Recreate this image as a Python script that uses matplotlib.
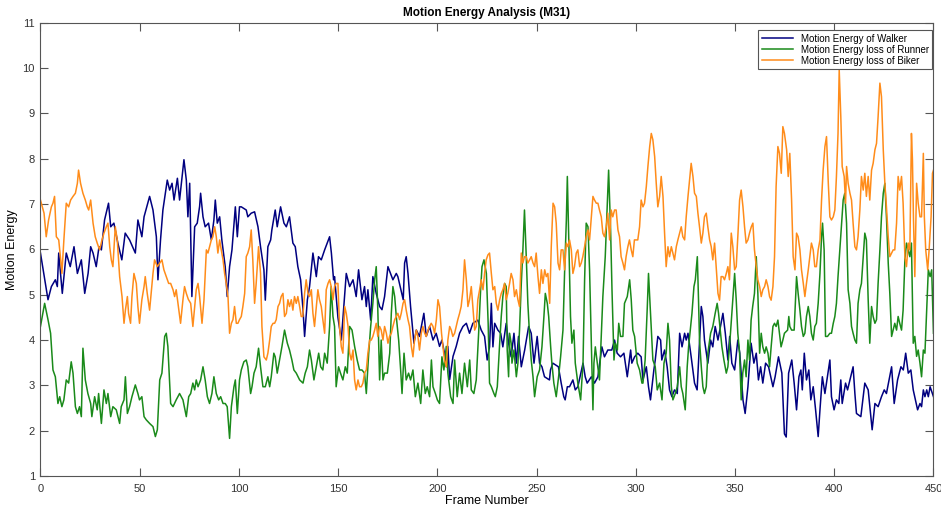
import matplotlib.pyplot as plt

plt.rcParams['font.family'] = ['Liberation Sans', 'DejaVu Sans']

# Walker (frame, value)
walker_f = [0, 3.8, 5.5, 7.5, 8.5, 9.2, 11, 13, 15, 16.9, 18.6, 20.6, 22.3, 24, 25.3, 26.5, 28.1, 29.5, 30.7,
            32.3, 34.3, 35.4, 37, 39, 41, 42.7, 44.9, 47.8, 49.1, 51.1, 52.2, 55, 56.7, 58.4, 59.2, 60.5, 61.7,
            63.9, 65.1, 66.3, 67.3, 69, 70.1, 72.3, 73.5, 74.3, 75.2, 76.3, 77.7, 79, 80.2, 80.7, 81.9, 83,
            84.7, 86.1, 87.4, 88.1, 89.1, 90.3, 91.4, 93.1, 94.1, 95.3, 96.5, 98.2, 99.2, 100.3, 101.2, 103.7,
            104.5, 106.2, 107.9, 109.6, 110.9, 112.6, 113.3, 114.6, 116, 116.6, 118.3, 119.3, 121, 122.7,
            123.9, 125.5, 127.2, 128.4, 129.7, 131.1, 132.3, 133.1, 134.5, 135.6, 137.3, 139, 140.1, 141.5,
            143.2, 145.7, 146.6, 147.7, 148.2, 149.9, 151.6, 154.1, 155.8, 157.5, 159.1, 160.3, 162, 163.3,
            164.2, 165, 166.4, 167.5, 169.2, 170.9, 172.1, 173.4, 175.1, 176.4, 177.6, 179.3, 180.1, 182.8,
            183.5, 184.3, 185.2, 186.5, 188.2, 189.4, 191, 193.2, 194.4, 196.1, 197.8, 199.4, 201.1, 202.3,
            203.6, 204.5, 205.3, 206.2, 207.9, 209.5, 211.2, 212.9, 214.6, 216.2, 217.9, 220.4, 222.1, 223.8,
            225.1, 226.3, 227.2, 228, 228.9, 230.5, 231.9, 233, 234.7, 235.9, 237.2, 238.6, 239.8, 240.9,
            242.3, 244, 246, 247.3, 248.7, 250.3, 251.5, 252.7, 254, 256.5, 257, 258.2, 261, 262.4, 263.7,
            264.4, 265.5, 266.6, 268.3, 269.5, 270.8, 273.4, 274.5, 275.5, 277.6, 279.2, 280.9, 282.9, 284.2,
            285.9, 287.9, 289.3, 290.6, 292.3, 294, 295.7, 297.4, 298, 299.4, 301, 302.7, 303.6, 305.3, 306.4,
            307.4, 309.1, 309.8, 311.1, 312.5, 313.1, 314.5, 315.8, 317, 318.2, 319.5, 320.9, 322.1, 323.3,
            324.6, 325.4, 326.3, 327.9, 329.6, 330.9, 333, 333.8, 334.6, 336.3, 337.7, 338.8, 340, 341.4,
            343.9, 345.1, 346.4, 347.3, 348.4, 349.8, 351.4, 352.4, 354, 355.1, 356.5, 358.1, 359.5, 360.7,
            361.8, 362.9, 364, 365.4, 366.9, 369.1, 370.2, 371.9, 373.6, 374.9, 375.8, 377, 378.6, 379.8,
            381, 382.2, 383.2, 383.9, 384.9, 386, 387.2, 388.2, 389.4, 390.6, 391.9, 392.8, 394, 395.3,
            397.8, 398.6, 399.9, 401.1, 402.3, 403.3, 404, 405.7, 406.7, 409.5, 410.4, 411.2, 413.4, 415.4,
            417.1, 419.1, 420.5, 422.1, 423.8, 425.2, 426.3, 428.9, 430.2, 431.9, 433.6, 434.8, 436, 437.3,
            438.6, 439.8, 442, 443.2, 444, 444.9, 445.7, 446.6, 447.4, 448.3, 450]
walker_v = [5.92, 4.89, 5.18, 5.33, 5.18, 5.92, 5.03, 5.92, 5.62, 6.06, 5.47, 5.77, 5.03, 5.47, 6.06, 5.92, 5.62,
            6.06, 5.99, 6.65, 7.02, 6.5, 6.58, 6.14, 5.77, 6.36, 6.21, 5.92, 6.65, 6.28, 6.72, 7.17, 6.87,
            6.28, 5.33, 6.21, 6.87, 7.53, 7.31, 7.46, 7.09, 7.57, 7.09, 7.98, 7.53, 6.72, 7.46, 4.96, 6.5,
            6.58, 6.95, 7.24, 6.72, 6.5, 6.58, 6.21, 6.65, 7.09, 6.58, 6.72, 6.21, 5.62, 4.96, 5.62, 5.99,
            6.94, 6.28, 6.94, 6.94, 6.87, 6.72, 6.8, 6.83, 6.5, 6.06, 5.55, 4.88, 6.06, 6.21, 6.43, 6.87,
            6.5, 6.94, 6.58, 6.5, 6.72, 6.14, 6.06, 5.62, 5.33, 4.67, 4.08, 4.89, 5.18, 5.92, 5.4, 5.84,
            5.77, 5.99, 6.28, 5.92, 5.33, 5.4, 4.5, 4.0, 5.47, 5.18, 5.33, 4.96, 5.55, 4.89, 5.18, 4.74,
            5.11, 4.44, 5.4, 5.03, 4.74, 4.67, 4.96, 5.62, 5.47, 5.33, 5.47, 5.4, 4.89, 5.7, 5.84, 5.47,
            4.74, 3.93, 4.22, 4.08, 4.59, 4.08, 4.3, 4.0, 4.15, 3.86, 4.0, 3.71, 3.41, 3.86, 3.13, 3.64,
            3.86, 4.15, 4.3, 4.37, 4.15, 4.37, 4.44, 4.22, 4.08, 3.56, 3.85, 4.81, 3.85, 4.37, 4.22, 4.15,
            3.85, 4.37, 3.93, 3.63, 4.15, 3.49, 4.08, 3.41, 3.78, 4.3, 4.15, 3.49, 4.08, 3.49, 3.41, 3.19,
            3.12, 3.34, 3.49, 3.41, 3.05, 2.75, 2.68, 2.97, 2.97, 3.12, 2.9, 2.97, 3.49, 3.19, 3.05, 3.19,
            3.05, 3.19, 3.85, 3.63, 3.78, 3.78, 4.0, 3.71, 3.63, 3.71, 3.19, 3.78, 3.49, 3.63, 3.71, 3.63,
            3.12, 3.41, 2.97, 2.68, 3.34, 3.56, 4.08, 4.0, 3.56, 3.78, 3.41, 2.9, 2.75, 2.9, 2.82, 4.15,
            3.85, 4.15, 4.0, 4.15, 3.63, 3.05, 2.9, 4.74, 4.52, 4.0, 3.49, 4.0, 3.85, 4.3, 4.0, 4.59, 4.15,
            3.56, 4.08, 3.49, 3.34, 4.0, 3.71, 2.68, 2.38, 2.97, 3.93, 3.49, 3.71, 3.12, 3.41, 3.05, 3.49,
            3.41, 2.97, 3.19, 3.63, 3.27, 1.93, 1.86, 3.27, 3.56, 3.05, 2.46, 3.19, 3.34, 2.9, 3.71, 3.12,
            3.34, 2.68, 2.97, 2.46, 1.87, 2.46, 3.19, 2.82, 3.56, 2.75, 2.46, 2.68, 2.6, 3.12, 2.6, 3.05,
            2.9, 3.41, 2.82, 2.38, 2.31, 3.05, 2.9, 2.02, 2.6, 2.53, 2.75, 2.9, 2.82, 3.41, 2.6, 3.12, 3.41,
            3.34, 3.71, 3.27, 3.34, 2.9, 2.46, 2.6, 2.53, 2.9, 2.75, 2.9, 2.75, 2.97, 2.75]

# Runner
runner_f = [0, 2.1, 3.8, 5.1, 6.3, 7.5, 8.8, 9.7, 10.8, 11.8, 13, 14.2, 15.5, 16.4, 17.6, 18.6, 19.7, 20.6,
            21.4, 22.6, 23.9, 25.3, 25.9, 27.3, 28.6, 29.3, 30.7, 32, 33.2, 34, 35.4, 36.5, 38.2, 39.9, 40.7,
            42.1, 42.8, 43.8, 44.9, 46.1, 47.8, 49.1, 49.9, 51.1, 52.2, 53.3, 55, 56.7, 57.9, 58.9, 60.1,
            61.2, 62.6, 63.4, 64.2, 65.6, 66.8, 68.4, 70.1, 71.8, 73.5, 74.7, 75.7, 76.8, 77.7, 78.5, 79.4,
            80.7, 81.9, 83, 84.1, 85.2, 86.4, 87.4, 88.6, 89.8, 90.8, 92, 93.1, 94.1, 95.3, 96.2, 97.5, 98.2,
            99.2, 100.3, 101.2, 102.5, 103.7, 104.5, 105.9, 106.6, 107.6, 108.7, 109.9, 110.9, 112.1, 113.3,
            114.6, 115.5, 116.3, 117.6, 118.3, 119.3, 120.5, 121.7, 123, 124.4, 125.5, 126.7, 127.7, 128.9,
            130.6, 132.3, 133.4, 134.5, 135.6, 136.5, 137.8, 139, 140.2, 141.2, 142.3, 143.2, 144.5, 145.7,
            146.5, 147.4, 148.2, 149, 150.2, 151.2, 152.4, 153.6, 154.6, 155.8, 157, 158.3, 159.6, 160.8,
            162, 163.3, 164.2, 165.4, 166.4, 167.5, 168.4, 169.2, 170, 170.9, 171.7, 172.6, 173.4, 174.8,
            176, 176.8, 177.6, 178.5, 179.3, 180.5, 181.5, 182.2, 183.2, 184.3, 185.5, 186.5, 187.7, 188.9,
            190.2, 191.6, 192.7, 193.9, 194.9, 196.1, 197, 197.8, 199, 200, 201.1, 202.3, 203.3, 204.5,
            205.3, 206.7, 207.9, 208.7, 210, 211.2, 212.4, 213.7, 215.1, 216.3, 217.1, 218.4, 219.6, 220.8,
            221.8, 222.5, 223.5, 224.7, 225.6, 226.3, 227.2, 228.5, 229.2, 230.2, 231.4, 232.2, 233, 233.9,
            234.7, 235.2, 235.9, 236.4, 237.2, 237.6, 238.6, 239.8, 240.6, 241.4, 242.3, 243.1, 243.9,
            244.8, 245.6, 246.5, 247.3, 248.2, 249, 250.3, 251.5, 252.7, 253.7, 254.4, 255.4, 256.1, 257.1,
            257.7, 258.7, 259.9, 261.1, 262.1, 263.3, 264.1, 265, 265.5, 266.1, 267.1, 267.8, 268.8, 269.5,
            270.8, 272.2, 273.4, 274.2, 275, 275.9, 276.7, 277.6, 278.4, 278.9, 279.6, 280.6, 281.7, 282.6,
            283.4, 284.6, 285.6, 286.3, 287.3, 288, 289, 289.7, 290.7, 291.4, 292.3, 293.5, 294.3, 295.7,
            296.9, 297.7, 298.5, 299.4, 300.7, 301.9, 303.1, 303.6, 304.7, 305.8, 306.4, 307.4, 308.6,
            309.8, 310.8, 312, 313.2, 314.2, 315.3, 316.2, 317, 317.9, 318.7, 319.9, 320.9, 322.1, 322.9,
            323.7, 324.9, 325.9, 326.6, 327.6, 328.3, 329.3, 330, 331, 331.6, 332.1, 333, 333.8, 334.6,
            335.5, 336.3, 337.7, 338.8, 340, 341, 341.7, 342.7, 343.4, 344.4, 345.6, 346.4, 347.7, 348.9,
            349.8, 350.6, 351.4, 352.3, 353.1, 353.9, 354.8, 355.6, 356.5, 357.3, 358.1, 358.9, 359.8,
            360.7, 361.5, 362.4, 363.2, 364, 364.9, 365.7, 366.6, 367.4, 368.2, 369.1, 369.9, 370.7, 371.6,
            372.4, 373.2, 374.1, 374.9, 376.5, 377.1, 377.6, 378.5, 379.8, 381, 381.8, 382.7, 383.5, 384.4,
            385.2, 386, 386.9, 387.7, 388.5, 389.4, 390.2, 391, 391.9, 392.8, 393.6, 394.1, 394.9, 395.6,
            396.6, 397.8, 398.6, 399.5, 400.3, 401.1, 401.9, 402.8, 403.7, 404.5, 405.3, 406.2, 407, 407.9,
            408.7, 409.5, 410.4, 411.2, 412, 412.9, 413.7, 414.6, 415.4, 416.2, 417.1, 417.9, 418.8, 419.6,
            420.5, 421.3, 422.1, 423, 423.8, 424.7, 425.5, 426.3, 427.2, 428, 428.9, 429.7, 430.5, 431.4,
            432.2, 433, 433.9, 434.7, 435.6, 436.4, 437.2, 438.1, 438.9, 439.8, 440.6, 441.5, 442.3, 443.2,
            444, 444.9, 445.7, 446.6, 447.4, 448.3, 449.1, 450]
runner_v = [4.3, 4.81, 4.45, 4.15, 3.34, 3.19, 2.6, 2.75, 2.53, 2.68, 3.12, 3.05, 3.52, 3.27, 2.53, 2.38, 2.53,
            2.31, 3.82, 3.12, 2.82, 2.6, 2.31, 2.75, 2.46, 2.82, 2.16, 2.9, 2.6, 2.82, 2.31, 2.53, 2.46, 2.16,
            2.53, 2.68, 3.19, 2.38, 2.53, 2.75, 3.01, 2.82, 2.68, 2.75, 2.31, 2.24, 2.16, 2.09, 1.87, 2.02,
            3.12, 3.27, 4.08, 4.15, 3.86, 2.6, 2.53, 2.68, 2.82, 2.68, 2.31, 2.75, 2.82, 3.05, 2.9, 3.12,
            2.97, 3.12, 3.41, 3.12, 2.75, 2.6, 2.82, 3.19, 2.82, 2.68, 2.75, 2.6, 2.6, 2.53, 1.83, 2.53, 2.97,
            3.12, 2.38, 3.12, 3.34, 3.52, 3.56, 3.41, 2.82, 2.97, 3.27, 3.41, 3.82, 3.41, 2.97, 2.97, 3.19,
            2.97, 3.19, 3.71, 3.63, 3.27, 3.56, 3.86, 4.22, 3.93, 3.78, 3.56, 3.34, 3.27, 3.12, 3.05, 3.27,
            3.41, 3.78, 3.56, 3.12, 3.41, 3.71, 3.41, 3.34, 3.71, 3.49, 4.3, 5.18, 4.52, 4.3, 2.97, 3.41,
            3.27, 3.12, 3.41, 3.27, 4.3, 4.22, 3.86, 3.56, 3.34, 3.34, 3.27, 2.82, 3.71, 4.3, 4.81, 5.33,
            5.62, 4.66, 3.12, 4.0, 3.12, 3.27, 3.27, 3.71, 4.59, 5.18, 4.96, 4.52, 4.0, 3.34, 2.82, 3.71,
            3.12, 3.27, 3.12, 3.34, 2.75, 3.05, 2.6, 3.34, 2.82, 2.97, 2.75, 3.56, 2.97, 2.82, 2.68, 2.6,
            3.63, 3.34, 3.86, 3.27, 2.75, 2.6, 3.56, 2.75, 3.27, 2.82, 3.49, 2.97, 3.56, 2.9, 2.82, 3.12,
            4.15, 5.11, 5.62, 5.77, 5.47, 4.37, 3.05, 2.97, 2.82, 2.75, 2.97, 3.93, 4.52, 4.96, 5.25, 5.18,
            3.78, 3.19, 4.15, 3.93, 3.49, 3.78, 3.19, 3.49, 4.22, 5.25, 5.99, 6.87, 5.84, 4.81, 4.08, 3.56,
            3.19, 2.75, 3.19, 3.34, 3.85, 4.52, 5.03, 4.81, 4.52, 3.85, 3.49, 3.05, 2.75, 3.19, 3.63, 4.22,
            5.47, 6.65, 7.61, 6.43, 4.52, 3.93, 4.22, 3.49, 3.05, 2.68, 3.49, 5.33, 6.58, 6.5, 5.55, 3.93,
            2.46, 3.49, 3.85, 3.49, 3.12, 4.08, 4.96, 5.84, 6.94, 7.75, 6.43, 5.11, 3.56, 3.93, 3.78, 4.37,
            4.08, 4.08, 4.81, 4.96, 5.33, 4.89, 4.22, 4.08, 3.49, 3.34, 3.05, 3.05, 3.56, 4.74, 5.47, 4.59,
            3.56, 3.41, 2.9, 3.05, 2.68, 3.49, 3.71, 4.37, 4.0, 2.97, 2.68, 2.82, 2.97, 3.41, 2.97, 2.82,
            2.46, 3.41, 3.85, 4.3, 4.59, 5.18, 5.33, 5.84, 4.89, 4.0, 3.41, 2.97, 2.82, 2.97, 3.71, 4.15,
            4.3, 4.59, 4.81, 4.59, 4.15, 3.85, 3.56, 3.27, 3.41, 4.15, 4.89, 5.47, 4.89, 4.15, 3.71, 2.68,
            3.27, 3.56, 3.19, 4.0, 3.56, 4.44, 4.74, 5.03, 5.84, 5.03, 3.71, 4.15, 3.85, 3.71, 3.85, 3.71,
            3.41, 3.85, 4.3, 4.37, 4.3, 4.44, 4.15, 3.85, 4.0, 4.15, 4.22, 4.52, 4.3, 4.22, 4.22, 5.4, 5.03,
            4.66, 4.3, 4.08, 4.15, 4.52, 4.74, 4.52, 4.15, 4.0, 4.3, 4.37, 4.81, 5.47, 6.28, 6.58, 5.99,
            4.08, 4.08, 4.15, 4.15, 4.37, 4.52, 4.81, 5.4, 5.99, 6.58, 7.09, 7.24, 6.58, 5.11, 4.81, 4.3,
            4.15, 4.0, 3.93, 4.81, 5.11, 5.25, 5.84, 6.36, 6.21, 4.89, 3.93, 4.74, 4.52, 4.37, 4.45, 5.25,
            5.99, 6.72, 7.24, 7.46, 6.72, 5.7, 5.03, 4.08, 4.22, 4.37, 4.22, 4.52, 4.37, 4.22, 4.66, 5.77,
            6.14, 5.99, 5.84, 6.14, 3.93, 4.08, 3.64, 3.78, 3.49, 3.19, 3.78, 3.71, 4.66, 5.55, 5.4, 5.55,
            4.15]

# Biker
biker_f = [0, 1.8, 2.9, 4.1, 5.5, 6.3, 7.1, 8, 9.2, 10.2, 10.8, 11.8, 13, 14.2, 15.2, 16.4, 17.6, 18.6, 19.2,
           20.2, 21.4, 22.6, 23.6, 24.3, 25.3, 26.5, 27.6, 28.6, 29.8, 31, 32, 33.2, 34, 34.9, 35.7, 36.5,
           37.7, 38.7, 39.9, 41.1, 42.1, 42.8, 43.8, 44.4, 45.4, 46.1, 47.1, 48.3, 49.1, 49.9, 51.1, 52.2,
           52.8, 53.8, 55, 55.8, 56.7, 57.5, 58.9, 60.1, 61.2, 62.2, 63.4, 64.6, 65.6, 66.8, 67.6, 68.4,
           69.3, 70.6, 71.8, 72.6, 73.5, 74.5, 75.7, 76.8, 77.7, 78.5, 79.4, 80.2, 81.4, 82.4, 83.6, 84.4,
           85.2, 86.1, 86.9, 87.8, 88.6, 89.4, 90.3, 91.1, 92, 92.8, 93.6, 94.5, 95.3, 96.2, 97, 97.8, 98.7,
           99.5, 100.3, 101.2, 102, 102.9, 103.7, 104.5, 105.4, 106.2, 107, 107.9, 108.7, 109.9, 110.9,
           111.6, 112.6, 113.8, 114.6, 115.5, 116.3, 117.2, 118, 118.8, 119.7, 120.5, 121.3, 122.2, 123,
           123.9, 124.7, 125.5, 126.4, 127.2, 128, 128.9, 129.7, 130.6, 131.4, 132.2, 133.1, 133.9, 134.8,
           135.6, 136.5, 137.3, 138.1, 139, 139.8, 140.6, 141.5, 142.3, 143.2, 144, 144.9, 145.7, 146.5,
           147.4, 148.2, 149, 149.9, 150.7, 151.6, 152.4, 153.3, 154.1, 155, 155.8, 156.6, 157.5, 158.3,
           159.1, 160, 160.8, 161.7, 162.5, 163.3, 164.2, 165, 165.9, 166.7, 167.5, 168.4, 169.2, 170,
           170.9, 171.7, 172.6, 173.4, 174.3, 175.1, 175.9, 176.8, 177.6, 178.5, 179.3, 180.1, 181, 181.8,
           182.7, 183.5, 184.3, 185.2, 186, 186.9, 187.7, 188.5, 189.4, 190.2, 191, 191.9, 192.7, 193.6,
           194.4, 195.3, 196.1, 196.9, 197.8, 198.6, 199.5, 200.3, 201.1, 202.1, 202.8, 203.6, 204.5,
           205.3, 206.2, 207, 207.8, 208.7, 209.5, 210.3, 211.2, 212, 212.9, 213.7, 214.6, 215.4, 216.2,
           217.1, 217.9, 218.8, 219.6, 220.4, 221.3, 222.1, 223, 223.8, 224.6, 225.5, 226.3, 227.2, 228,
           228.9, 229.7, 230.5, 231.4, 232.2, 233, 233.9, 234.7, 235.5, 236.4, 237.2, 238.1, 238.9, 239.8,
           240.6, 241.4, 242.3, 243.1, 243.9, 244.8, 245.6, 246.5, 247.3, 248.2, 249, 249.8, 250.7, 251.5,
           252.4, 253.2, 254.1, 254.9, 255.7, 256.6, 257.4, 258.3, 259.1, 259.9, 260.8, 261.6, 262.4,
           263.3, 264.1, 265, 265.8, 266.6, 267.5, 268.3, 269.1, 270, 270.8, 271.7, 272.5, 273.3, 274.2,
           275, 275.9, 276.7, 277.6, 278.4, 279.2, 280.1, 280.9, 281.7, 282.6, 283.4, 284.2, 285.1, 285.9,
           286.8, 287.6, 288.4, 289.3, 290.1, 291, 291.8, 292.6, 293.5, 294.3, 295.1, 296, 296.8, 297.7,
           298.5, 299.3, 300.2, 301, 301.9, 302.7, 303.6, 304.4, 305.3, 306.1, 307, 307.8, 308.6, 309.5,
           310.3, 311.1, 312, 312.8, 313.7, 314.5, 315.3, 316.2, 317, 317.9, 318.7, 319.5, 320.4, 321.2,
           322.1, 322.9, 323.7, 324.6, 325.4, 326.3, 327.1, 327.9, 328.8, 329.6, 330.5, 331.3, 332.1, 333,
           333.8, 334.6, 335.5, 336.3, 337.2, 338, 338.8, 339.7, 340.5, 341.4, 342.2, 343, 343.9, 344.7,
           345.6, 346.4, 347.2, 348.1, 348.9, 349.8, 350.6, 351.5, 352.3, 353.1, 354, 354.8, 355.6, 356.5,
           357.3, 358.2, 359, 359.8, 360.7, 361.5, 362.4, 363.2, 364, 364.9, 365.7, 366.6, 367.4, 368.2,
           369.1, 369.9, 370.7, 371.6, 372.4, 373.3, 374.1, 374.9, 376, 376.8, 377.6, 378.5, 379.3, 380.2,
           381, 381.8, 382.7, 383.5, 384.4, 385.2, 386, 386.9, 387.7, 388.5, 389.4, 390.2, 391, 391.9,
           392.8, 393.6, 394.4, 395.3, 396.1, 397, 397.8, 398.6, 399.5, 400.3, 401.1, 401.9, 402.5, 403.3,
           404, 405, 405.7, 406.2, 407, 407.9, 408.7, 409.5, 410.4, 411.2, 412, 412.9, 413.7, 414.6, 415.4,
           416.2, 417.1, 417.9, 418.8, 419.6, 420.5, 421.3, 422.1, 423, 423.8, 424.7, 425.5, 426.3, 427.2,
           428, 428.9, 429.7, 430.5, 431.4, 432.2, 433, 433.9, 434.7, 435.6, 436.4, 437.3, 438.1, 438.9,
           439.4, 439.9, 440.6, 441.5, 442.3, 443.2, 444, 444.9, 445.4, 446.1, 447.1, 447.8, 448.8, 449.5,
           450]
biker_v = [7.09, 6.8, 6.28, 6.65, 6.94, 7.02, 7.17, 6.28, 6.21, 5.77, 5.47, 6.21, 7.02, 6.94, 7.09, 7.17, 7.24,
           7.46, 7.75, 7.46, 7.24, 7.09, 6.94, 6.87, 7.09, 6.58, 6.28, 6.14, 5.99, 6.21, 6.36, 6.5, 6.58, 6.06,
           5.77, 5.62, 6.5, 6.21, 5.4, 4.96, 4.37, 4.66, 4.96, 4.59, 4.37, 4.96, 5.47, 5.25, 4.74, 4.37, 4.89,
           5.18, 5.4, 5.03, 4.66, 5.03, 5.47, 5.77, 5.62, 5.7, 5.77, 5.55, 5.4, 5.25, 5.25, 5.11, 4.96, 5.11,
           4.81, 4.37, 4.89, 5.18, 5.03, 4.9, 4.81, 4.3, 4.74, 5.11, 5.25, 4.96, 4.37, 4.89, 5.99, 5.92,
           6.06, 6.21, 6.28, 6.5, 6.28, 5.92, 6.21, 5.99, 5.77, 5.47, 5.25, 4.96, 4.15, 4.37, 4.45, 4.74,
           4.37, 4.37, 4.45, 4.52, 4.74, 5.03, 5.84, 5.92, 6.06, 6.43, 5.77, 4.81, 5.25, 6.06, 5.47, 4.3,
           3.63, 3.56, 3.71, 4.0, 4.3, 4.37, 4.37, 4.45, 4.74, 4.81, 4.96, 5.03, 4.52, 4.59, 4.89, 4.74,
           4.89, 4.66, 4.96, 4.81, 4.96, 4.74, 4.52, 4.52, 5.03, 5.33, 5.03, 4.96, 5.11, 4.59, 4.3, 4.74,
           5.11, 4.89, 4.74, 4.45, 4.15, 5.11, 5.25, 5.33, 5.18, 4.89, 5.18, 5.25, 5.25, 4.3, 3.85, 3.71,
           4.74, 4.59, 4.3, 3.71, 3.56, 3.78, 3.12, 2.9, 3.12, 2.97, 2.97, 3.05, 3.27, 3.34, 3.71, 4.0, 4.0,
           4.08, 4.22, 4.37, 4.08, 4.3, 4.22, 4.0, 4.3, 4.15, 3.93, 4.08, 4.15, 4.3, 4.45, 4.52, 4.59, 4.45,
           4.59, 4.81, 4.89, 4.66, 4.45, 4.3, 3.86, 3.63, 4.0, 4.22, 4.08, 3.78, 4.15, 4.3, 4.15, 4.08,
           4.22, 4.3, 4.37, 4.3, 4.15, 4.45, 4.89, 4.74, 4.15, 3.86, 3.56, 3.41, 4.0, 4.3, 4.22, 4.08, 4.15,
           4.3, 4.45, 4.59, 4.74, 5.11, 5.77, 5.33, 4.74, 4.89, 5.18, 4.74, 4.22, 4.3, 4.89, 5.11, 5.33,
           5.11, 5.47, 5.77, 5.88, 5.92, 5.47, 5.11, 5.18, 4.81, 4.66, 4.89, 5.03, 5.11, 5.25, 4.89, 5.03,
           5.25, 5.47, 5.33, 4.96, 5.11, 4.89, 4.74, 5.92, 5.7, 5.84, 5.84, 5.7, 5.77, 5.84, 5.7, 5.62,
           5.92, 5.4, 5.03, 5.55, 5.25, 5.55, 5.4, 5.47, 4.81, 6.06, 7.02, 6.94, 6.58, 5.7, 5.55, 5.99,
           5.99, 5.55, 6.14, 6.06, 6.21, 5.99, 5.47, 5.62, 5.92, 5.99, 5.62, 5.7, 5.84, 6.06, 6.28, 6.43,
           6.21, 6.72, 7.17, 7.09, 7.02, 7.02, 6.87, 6.72, 6.36, 6.28, 6.5, 6.8, 6.21, 6.87, 6.72, 6.87,
           6.87, 6.43, 6.28, 5.84, 5.7, 5.55, 5.84, 6.06, 6.21, 5.99, 5.84, 6.21, 6.21, 6.21, 6.5, 7.09,
           6.94, 7.02, 7.39, 7.83, 8.27, 8.56, 8.42, 8.05, 7.46, 6.94, 7.17, 7.61, 7.17, 6.36, 5.62, 6.06,
           5.84, 6.06, 5.92, 5.77, 6.06, 6.21, 6.36, 6.5, 6.28, 6.21, 6.72, 7.17, 7.53, 7.9, 7.61, 7.24,
           7.17, 6.8, 6.5, 6.14, 6.36, 6.72, 6.8, 6.5, 6.21, 6.06, 5.77, 6.14, 5.62, 5.03, 4.88, 5.4, 5.4,
           5.33, 5.47, 5.62, 5.33, 6.36, 6.06, 5.55, 5.62, 6.36, 7.09, 7.31, 6.94, 6.5, 6.14, 6.21, 6.36,
           6.5, 6.58, 5.99, 5.62, 5.33, 5.18, 4.96, 5.11, 5.18, 5.33, 5.18, 4.96, 4.88, 5.18, 5.84, 7.39,
           8.27, 8.12, 7.68, 8.71, 8.56, 8.2, 7.61, 8.12, 7.09, 5.84, 5.55, 6.36, 6.28, 5.99, 5.55, 5.25,
           4.96, 5.25, 5.55, 5.84, 6.14, 5.99, 5.62, 5.62, 5.99, 6.21, 7.09, 7.75, 8.27, 8.49, 7.46, 6.72,
           6.65, 6.72, 6.87, 7.61, 8.56, 9.96, 8.93, 7.83, 7.61, 7.02, 7.83, 7.46, 7.24, 7.09, 6.58, 6.06,
           5.99, 6.28, 6.87, 7.61, 7.31, 7.68, 7.17, 7.61, 7.09, 7.75, 7.9, 8.2, 8.34, 8.93, 9.67, 9.37,
           8.2, 7.46, 6.94, 6.28, 5.84, 5.92, 5.99, 5.99, 6.58, 7.61, 7.31, 7.61, 7.02, 5.84, 5.62, 6.14,
           5.99, 8.56, 7.98, 6.72, 5.4, 7.46, 7.02, 6.72, 6.72, 8.12, 6.72, 5.99, 5.55, 5.99, 6.72, 7.68,
           7.75]

fig = plt.figure(figsize=(9.41, 5.08), dpi=100)
ax = fig.add_axes([0.043, 0.063, 0.949, 0.892])

ax.plot(walker_f, walker_v, color='#000080', lw=1.1, label='Motion Energy of Walker')
ax.plot(runner_f, runner_v, color='#1a8a1a', lw=1.1, label='Motion Energy loss of Runner')
ax.plot(biker_f, biker_v, color='#ff8c1a', lw=1.1, label='Motion Energy loss of Biker')

ax.set_xlim(0, 450)
ax.set_ylim(1, 11)
ax.set_xticks(range(0, 451, 50))
ax.set_yticks(range(1, 12))
ax.tick_params(direction='in', top=True, right=True, labelsize=8, length=6, color='#555555',
               labelcolor='#333333')
ax.tick_params(axis='x', pad=5.5)
ax.tick_params(axis='y', pad=4)
for s in ax.spines.values():
    s.set_color('#555555')
    s.set_linewidth(0.8)

ax.set_title('Motion Energy Analysis (M31)', fontsize=8.5, fontweight='bold', pad=5)
ax.set_xlabel('Frame Number', fontsize=9, labelpad=1)
ax.set_ylabel('Motion Energy', fontsize=9, labelpad=3)

leg = ax.legend(loc='upper right', bbox_to_anchor=(0.9985, 0.984), borderaxespad=0, fontsize=7,
                handlelength=3.2, fancybox=False, framealpha=1, labelspacing=0.12, borderpad=0.35)
leg.get_frame().set_edgecolor('#555555')
leg.get_frame().set_linewidth(0.8)

fig.savefig('out.png', dpi=100)
